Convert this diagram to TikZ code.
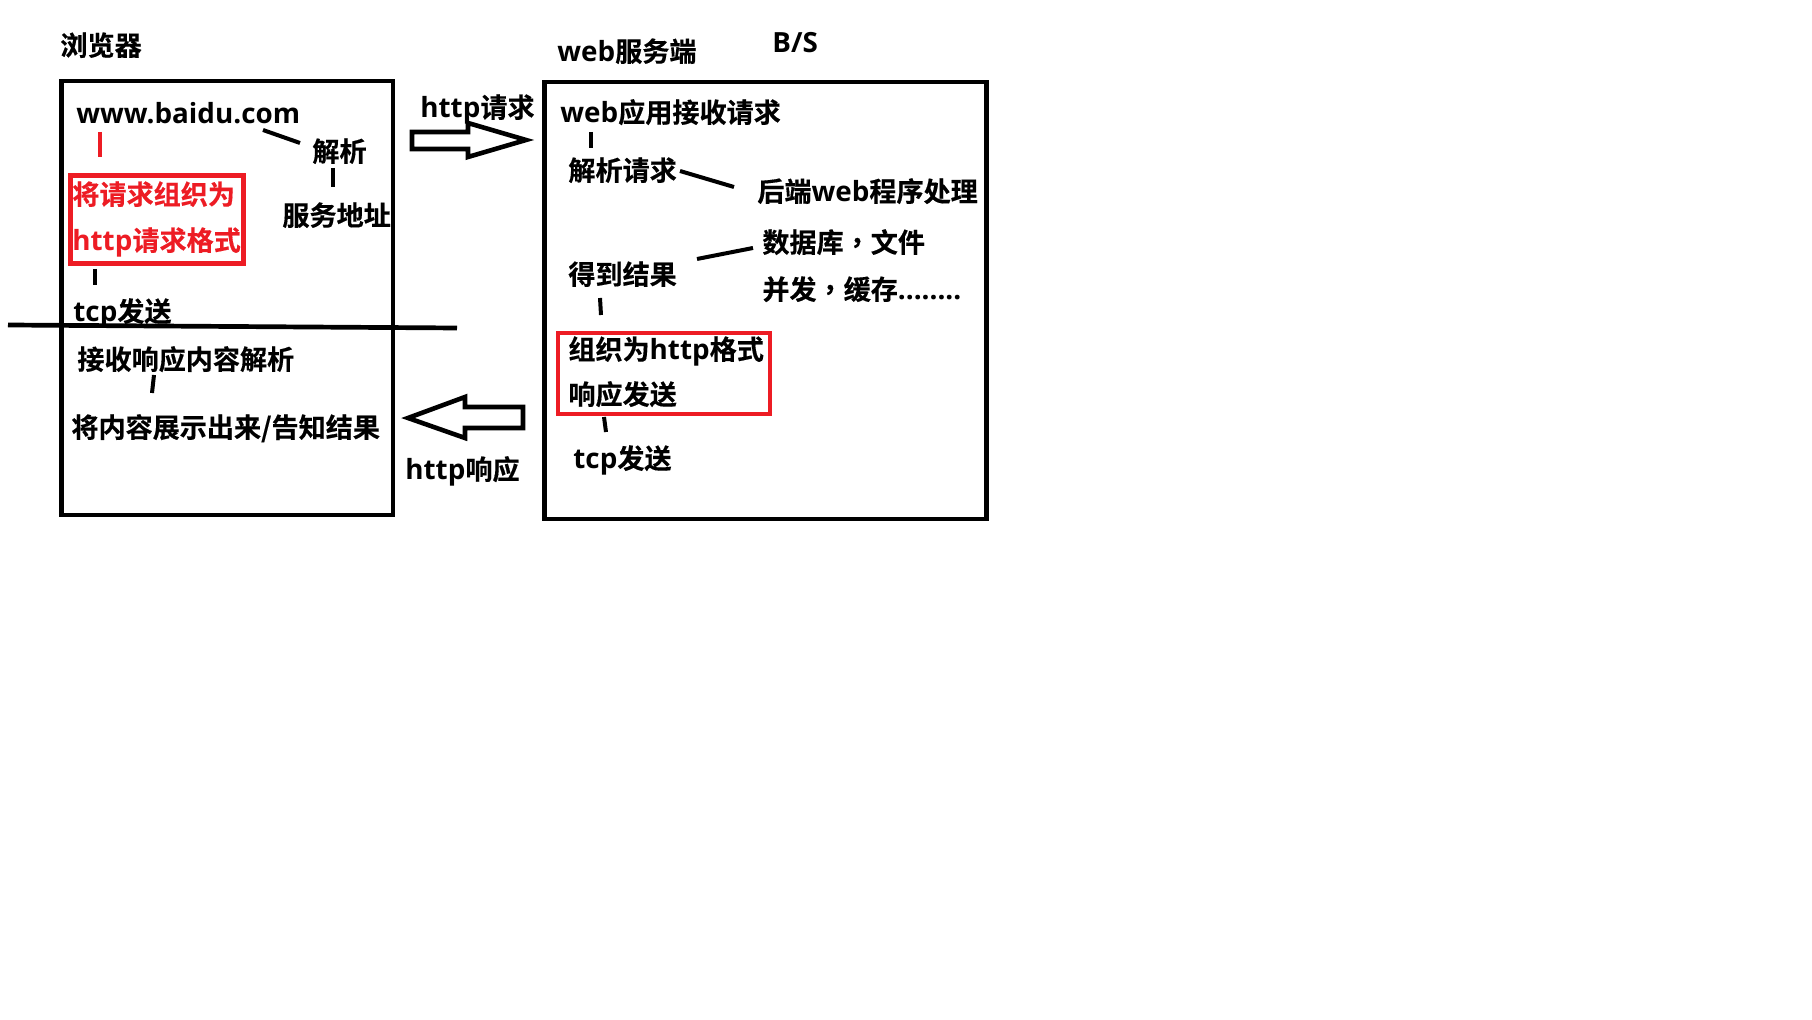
\documentclass[tikz,border=0pt]{standalone}
\usepackage{fontspec}
\setmainfont{Noto Sans CJK SC}[BoldFont={Noto Sans CJK SC Bold}, BoldFeatures={FakeBold=0.4}]
\newfontfamily\tcf{Noto Sans CJK TC}[BoldFont={Noto Sans CJK TC Bold}, BoldFeatures={FakeBold=0.4}]
\newfontfamily\latf{Open Sans}[BoldFont={Open Sans Bold}]
\newcommand\LatTxt[1]{{\latf\bfseries\fontsize{13.9}{16}\selectfont #1}}
\newcommand\CComma{{\tcf\bfseries ，}}
\definecolor{pred}{RGB}{237,28,36}
\tikzset{
  txt/.style={anchor=base west, inner sep=0pt, font=\fontsize{13.55}{16}\selectfont\bfseries},
  redtxt/.style={txt, text=pred},
  frame/.style={draw=black, line width=2.35pt},
  redframe/.style={draw=pred, line width=2.35pt},
  tick/.style={draw=black, line width=2pt},
  redtick/.style={draw=pred, line width=2pt},
  blockarrow/.style={draw=black, line width=2.3pt, line join=miter, fill=white},
}
\begin{document}
\begin{tikzpicture}[x=0.5pt, y=-0.5pt]
\useasboundingbox (0,0) rectangle (1812,1020);
\fill[white] (0,0) rectangle (1812,1020);

% frames
\draw[frame] (61.7,81) rectangle (393,515);
\draw[frame] (544.5,82) rectangle (986.5,519);
\draw[redframe] (70.5,175.5) rectangle (243.5,263.5);
\draw[redframe] (558,333) rectangle (770,414);

% titles
\node[txt] (browser) at (60,55.5) {浏览器};
\node[txt] (server) at (557,61.5) {\LatTxt{web}服务端};
\node[txt] (bs) at (772,53) {\LatTxt{B/S}};

% browser side
\node[txt] (www) at (76,124) {\LatTxt{www.baidu.com}};
\node[txt] (jiexi) at (312,161.5) {解析};
\node[txt] (addr) at (282,225.5) {服务地址};
\node[redtxt] (org1) at (72,204.5) {将请求组织为};
\node[redtxt] (org2) at (72,250.5) {\LatTxt{http}请求格式};
\node[txt] (tcp1) at (73,321.5) {\LatTxt{tcp}发送};
\node[txt] (recv) at (77,369.5) {接收响应内容解析};
\node[txt] (show) at (71,437.5) {将内容展示出来/告知结果};

% middle labels
\node[txt] (req) at (420,117.5) {\LatTxt{http}请求};
\node[txt] (resp) at (405,479.5) {\LatTxt{http}响应};

% server side
\node[txt] (app) at (560,122.5) {\LatTxt{web}应用接收请求};
\node[txt] (parse) at (568,180.5) {解析请求};
\node[txt] (backend) at (757,201.5) {后端\LatTxt{web}程序处理};
\node[txt] (db) at (762,252.5) {数据库\CComma 文件};
\node[txt] (result) at (568,284.5) {得到结果};
\node[txt] (conc) at (762,299.5) {并发\CComma 缓存\LatTxt{........}};
\node[txt] (org3) at (568,359.5) {组织为\LatTxt{http}格式};
\node[txt] (send) at (568,404.5) {响应发送};
\node[txt] (tcp2) at (573,468.5) {\LatTxt{tcp}发送};

% connector end points
\coordinate (wwwA) at (263,130); \coordinate (jiexiA) at (300,143);
\coordinate (wwwB) at (100,132); \coordinate (org1B) at (100,157);
\coordinate (jiexiC) at (333,168); \coordinate (addrC) at (333,187);
\coordinate (org2D) at (95,269); \coordinate (tcp1D) at (95,285);
\coordinate (recvE) at (154,375); \coordinate (showE) at (152,393);
\coordinate (appF) at (591,132); \coordinate (parseF) at (591,148);
\coordinate (parseG) at (680,171); \coordinate (backG) at (734,187);
\coordinate (resH) at (697,259); \coordinate (dbH) at (753,248);
\coordinate (resI) at (600,298); \coordinate (org3I) at (601,315);
\coordinate (sendJ) at (604,417); \coordinate (tcp2J) at (606,432);
\coordinate (divL) at (8,325); \coordinate (divR) at (457,328);

\draw[tick] (wwwA) -- (jiexiA);
\draw[redtick] (wwwB) -- (org1B);
\draw[tick] (jiexiC) -- (addrC);
\draw[tick] (org2D) -- (tcp1D);
\draw[tick] (recvE) -- (showE);
\draw[tick] (appF) -- (parseF);
\draw[tick] (parseG) -- (backG);
\draw[tick] (resH) -- (dbH);
\draw[tick] (resI) -- (org3I);
\draw[tick] (sendJ) -- (tcp2J);
\draw[frame] (divL) -- (divR);

% block arrows
\draw[blockarrow] (412,132) -- (468,132) -- (468,123) -- (526,140) -- (468,157) -- (468,149) -- (412,149) -- cycle;
\draw[blockarrow] (523,407) -- (465,407) -- (465,397) -- (408,418) -- (465,438) -- (465,428) -- (523,428) -- cycle;
\end{tikzpicture}
\end{document}
